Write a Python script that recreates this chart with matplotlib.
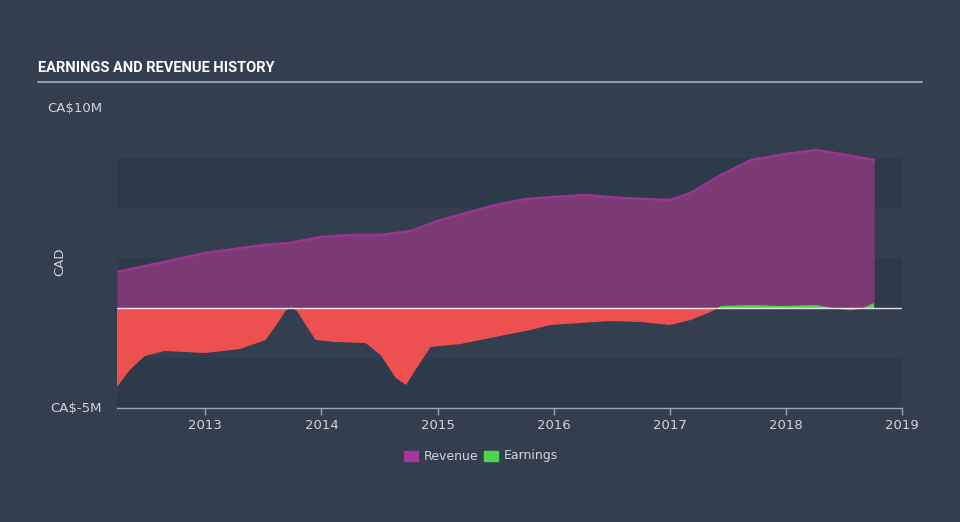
import numpy as np
import matplotlib.pyplot as plt

# time in fractional years, values in CA$ millions
rev_t = [2012.24, 2012.52, 2013.0, 2013.5, 2013.73, 2014.0, 2014.25, 2014.51, 2014.77,
         2015.0, 2015.28, 2015.5, 2015.76, 2016.0, 2016.28, 2016.58, 2017.0, 2017.18,
         2017.44, 2017.7, 2018.0, 2018.26, 2018.52, 2018.76]
rev_v = [1.8, 2.15, 2.75, 3.15, 3.25, 3.55, 3.65, 3.65, 3.85,
         4.35, 4.8, 5.15, 5.45, 5.55, 5.65, 5.5, 5.4, 5.75,
         6.65, 7.4, 7.7, 7.9, 7.65, 7.4]

earn_t = [2012.24, 2012.35, 2012.48, 2012.65, 2013.0, 2013.3, 2013.52, 2013.63, 2013.69, 2013.74,
          2013.79, 2013.85, 2013.95, 2014.12, 2014.38, 2014.51, 2014.64, 2014.73, 2014.81, 2014.94,
          2015.2, 2015.54, 2015.8, 2015.97, 2016.23, 2016.49, 2016.75, 2017.0, 2017.18,
          2017.35, 2017.44, 2017.7, 2017.96, 2018.26, 2018.45, 2018.56, 2018.66, 2018.76]
earn_v = [-3.95, -3.1, -2.4, -2.15, -2.25, -2.05, -1.6, -0.7, -0.15, 0.05,
          -0.15, -0.7, -1.6, -1.7, -1.75, -2.35, -3.5, -3.85, -3.1, -1.95,
          -1.8, -1.4, -1.1, -0.85, -0.75, -0.65, -0.7, -0.85, -0.6,
          -0.2, 0.1, 0.15, 0.1, 0.15, -0.05, -0.12, -0.02, 0.25]

years = [2013, 2014, 2015, 2016, 2017, 2018, 2019]

bg = '#333f4f'
band = '#2d3a4a'
txt = '#d0d4da'

fig = plt.figure(figsize=(9.6, 5.22), dpi=100, facecolor=bg)
ax = fig.add_axes([117 / 960, 114 / 522, 785 / 960, 300 / 522])
ax.set_facecolor(bg)

for lo, hi in [(5, 7.5), (0, 2.5), (-5, -2.5)]:
    ax.axhspan(lo, hi, color=band, zorder=0, lw=0)

rt = np.array(rev_t)
rv = np.array(rev_v)
ax.fill_between(rt, 0, rv, color='#7b3a74', lw=0, zorder=1)
ax.plot(rt, rv, color='#9a3591', lw=1.8, zorder=2)

et = np.array(earn_t)
ev = np.array(earn_v)
ax.fill_between(et, 0, ev, where=ev <= 0, interpolate=True, color='#ec5050', lw=0, zorder=3)
ax.fill_between(et, 0, ev, where=ev >= 0, interpolate=True, color='#4cd64c', lw=0, zorder=3)

ax.axhline(0, color='white', lw=1, alpha=0.85, zorder=4)

ax.set_xlim(2012.24, 2019.0)
ax.set_ylim(-5, 10)

for s in ['top', 'right', 'left']:
    ax.spines[s].set_visible(False)
ax.spines['bottom'].set_color('#9aa6b4')
ax.spines['bottom'].set_linewidth(1)

ax.set_xticks(years)
ax.set_xticklabels([str(y) for y in years])
ax.tick_params(axis='x', colors='#9aa6b4', length=5, width=1, labelcolor=txt, labelsize=9.5, pad=3)
ax.set_yticks([])

fig.text(102 / 960, 1 - 108 / 522, 'CA\\$10M', color=txt, fontsize=9.5, ha='right', va='center')
fig.text(102 / 960, 1 - 408 / 522, 'CA\\$-5M', color=txt, fontsize=9.5, ha='right', va='center')
fig.text(60 / 960, 1 - 262 / 522, 'CAD', color=txt, fontsize=9.5, rotation=90, ha='center', va='center')

fig.text(38 / 960, 1 - 68 / 522, 'EARNINGS AND REVENUE HISTORY', color='white', fontsize=10.5,
         fontweight='bold', family=['Roboto', 'DejaVu Sans'], ha='left', va='center')
fig.add_artist(plt.Line2D([38 / 960, 922 / 960], [1 - 82 / 522, 1 - 82 / 522], color='#a7b0bb', lw=1.2))

# legend
fig.patches.append(plt.Rectangle((404 / 960, 1 - 461 / 522), 14 / 960, 10 / 522,
                                 transform=fig.transFigure, color='#a6389c'))
fig.text(424 / 960, 1 - 456 / 522, 'Revenue', color=txt, fontsize=9, ha='left', va='center')
fig.patches.append(plt.Rectangle((484 / 960, 1 - 461 / 522), 14 / 960, 10 / 522,
                                 transform=fig.transFigure, color='#4cd64c'))
fig.text(504 / 960, 1 - 456 / 522, 'Earnings', color=txt, fontsize=9, ha='left', va='center')

fig.savefig('out.png', dpi=100, facecolor=bg)
